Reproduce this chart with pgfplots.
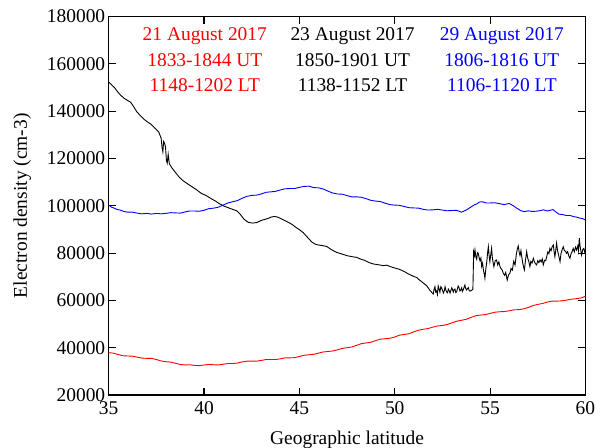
\documentclass[border=0pt]{standalone}
\usepackage{fontspec}
\setmainfont{Liberation Serif}
\usepackage{pgfplots}
\pgfplotsset{compat=1.18}
\newcommand{\chartfont}{\fontsize{19.5}{23}\selectfont}
\begin{document}
\begin{tikzpicture}
\begin{axis}[
    scale only axis,
    width=476.7bp, height=378.4bp,
    xmin=35, xmax=60, ymin=20000, ymax=180000,
    xtick={35,40,...,60},
    ytick={20000,40000,...,180000},
    scaled y ticks=false,
    yticklabel style={/pgf/number format/fixed, /pgf/number format/1000 sep={}},
    /pgf/number format/assume math mode=true,
    tick align=inside,
    major tick length=7bp,
    axis line style={line width=1.1bp},
    every tick/.style={black, line width=1.1bp},
    tick label style={font=\chartfont},
    xticklabel style={yshift=-3bp},
    label style={font=\chartfont},
    xlabel={Geographic latitude},
    ylabel={Electron density (cm-3)},
    xlabel style={yshift=-10bp},
    ylabel style={yshift=9bp},
    every axis plot/.append style={line width=0.9bp, mark=none},
]

% 21 August 2017
\addplot[red] coordinates {
(35.00,37900) (35.25,37700) (35.50,37100) (35.75,36600) (36.00,36500) (36.25,36400)
(36.50,36000) (36.75,35600) (37.00,35500) (37.25,35500) (37.50,35000) (37.75,34400)
(38.00,34100) (38.25,33900) (38.50,33400) (38.75,32900) (39.00,32700) (39.25,32800)
(39.50,32500) (39.75,32400) (40.00,32700) (40.25,32900) (40.50,32800) (40.75,32700)
(41.00,33000) (41.25,33300) (41.50,33300) (41.75,33500) (42.00,34000) (42.25,34300)
(42.50,34300) (42.75,34300) (43.00,34600) (43.25,35000) (43.50,35000) (43.75,35000)
(44.00,35300) (44.25,35700) (44.50,35700) (44.75,35800) (45.00,36300) (45.25,36800)
(45.50,37000) (45.75,37200) (46.00,37700) (46.25,38200) (46.50,38400) (46.75,38600)
(47.00,39100) (47.25,39700) (47.50,40000) (47.75,40300) (48.00,41000) (48.25,41700)
(48.50,42000) (48.75,42300) (49.00,43000) (49.25,43600) (49.50,43800) (49.75,44000)
(50.00,44500) (50.25,45300) (50.50,45600) (50.75,45900) (51.00,46700) (51.25,47400)
(51.50,47800) (51.75,48100) (52.00,48700) (52.25,49200) (52.50,49400) (52.75,49800)
(53.00,50500) (53.25,51200) (53.50,51600) (53.75,52000) (54.00,52800) (54.25,53500)
(54.50,53800) (54.75,54000) (55.00,54500) (55.25,55000) (55.50,55200) (55.75,55300)
(56.00,55600) (56.25,56000) (56.50,56100) (56.75,56400) (57.00,57000) (57.25,57800)
(57.50,58300) (57.75,58700) (58.00,59300) (58.25,59700) (58.50,59700) (58.75,59800)
(59.00,60100) (59.25,60500) (59.50,60700) (59.75,61000) (60.00,61700)
};

% 23 August 2017
\addplot[black] coordinates {
(35.00,152300) (35.15,151200) (35.30,150000) (35.45,148400) (35.60,147000) (35.80,145500)
(36.00,144500) (36.15,143800) (36.30,142000) (36.47,139800) (36.65,138200) (36.85,136600)
(37.08,135200) (37.20,134600) (37.35,133400) (37.50,132200) (37.62,131300) (37.75,128600)
(37.80,124500) (37.84,122800) (37.88,127200) (37.93,126500) (37.98,124800) (38.03,119000)
(38.07,118000) (38.12,121800) (38.18,117800) (38.30,116200) (38.50,114100) (38.70,112100)
(38.90,110600) (39.17,109100) (39.40,107900) (39.60,106800) (39.85,105300) (40.14,104200)
(40.40,102900) (40.60,102000) (40.80,100900) (41.01,100000) (41.20,99400) (41.40,98800)
(41.71,97900) (41.90,96400) (42.10,94300) (42.32,93000) (42.55,92700) (42.76,92900)
(43.00,93800) (43.20,94300) (43.37,94700) (43.55,95300) (43.72,95500) (43.90,95100)
(44.10,94300) (44.30,93500) (44.45,92900) (44.60,92200) (44.80,91000) (45.00,89900)
(45.20,88700) (45.35,87300) (45.50,86000) (45.65,84700) (45.82,83800) (46.00,83400)
(46.20,83200) (46.43,82800) (46.60,81900) (46.80,80900) (46.96,80300) (47.20,79700)
(47.50,78900) (47.75,78500) (48.00,78200) (48.20,77500) (48.40,77000) (48.65,76000)
(48.88,75400) (49.05,75200) (49.20,75000) (49.40,74700) (49.58,74900) (49.80,74200)
(50.00,73700) (50.19,73300) (50.40,72600) (50.55,72000) (50.71,71200) (50.85,70700)
(51.00,70100) (51.15,69700) (51.30,68600) (51.40,68000) (51.55,67000) (51.68,66200)
(51.85,64200) (52.02,62700) (52.06,64500) (52.11,65800) (52.15,63500) (52.20,64000)
(52.24,62500) (52.28,66100) (52.33,64800) (52.37,63500) (52.42,65800) (52.46,65300)
(52.51,64200) (52.55,63100) (52.60,64000) (52.64,65800) (52.68,64500) (52.72,63600)
(52.77,63200) (52.81,64800) (52.86,64100) (52.90,63100) (52.95,64300) (52.99,65300)
(53.03,64700) (53.07,63500) (53.12,64600) (53.16,64800) (53.20,63300) (53.25,63600)
(53.29,65000) (53.33,66100) (53.38,65200) (53.42,64000) (53.46,64300) (53.51,65300)
(53.55,63800) (53.59,64400) (53.64,65600) (53.68,66500) (53.72,65100) (53.77,64400)
(53.81,64900) (53.86,65400) (53.90,64300) (53.95,63900) (54.00,64100) (54.04,64300)
(54.10,64800) (54.14,80600) (54.18,79000) (54.21,81300) (54.26,78200) (54.30,77400)
(54.34,80200) (54.38,79900) (54.43,78000) (54.47,76800) (54.52,77900) (54.56,74300)
(54.61,75800) (54.65,72900) (54.70,71000) (54.73,69400) (54.78,73500) (54.82,75700)
(54.87,80000) (54.91,82700) (54.95,79000) (54.99,76400) (55.04,79500) (55.08,82000)
(55.12,78000) (55.16,76000) (55.20,74300) (55.27,76800) (55.34,77100) (55.40,75000)
(55.46,76300) (55.52,74300) (55.58,73400) (55.64,72800) (55.69,71500) (55.76,70600)
(55.82,71800) (55.90,68600) (55.97,70800) (56.04,71500) (56.10,73500) (56.17,72800)
(56.24,76500) (56.31,75000) (56.38,79500) (56.43,81800) (56.48,83000) (56.53,80200)
(56.57,79000) (56.62,81000) (56.66,78500) (56.71,76000) (56.76,74000) (56.80,72900)
(56.86,77000) (56.92,80600) (56.97,78000) (57.03,76500) (57.09,74300) (57.14,76500)
(57.20,75800) (57.27,77800) (57.32,76500) (57.38,75500) (57.44,75000) (57.50,76800)
(57.56,76000) (57.62,77100) (57.68,76300) (57.74,77500) (57.79,75000) (57.86,77000)
(57.92,76800) (57.97,78500) (58.03,80500) (58.09,79800) (58.14,82000) (58.20,81000)
(58.26,82800) (58.32,83400) (58.36,80500) (58.40,78500) (58.45,81500) (58.49,84200)
(58.54,81000) (58.60,79000) (58.67,76400) (58.72,79800) (58.78,81500) (58.84,82700)
(58.90,81000) (58.96,80800) (59.01,79900) (59.07,80600) (59.13,78800) (59.19,77800)
(59.25,79800) (59.30,80600) (59.36,82000) (59.42,80500) (59.48,82500) (59.54,81300)
(59.60,83000) (59.64,81000) (59.68,86300) (59.72,83000) (59.76,81000) (59.80,79200)
(59.86,81500) (59.92,82000) (59.96,80500) (60.00,81300)
};

% 29 August 2017
\addplot[blue] coordinates {
(35.00,100300) (35.15,99400) (35.30,99000) (35.45,98400) (35.60,98200) (35.80,97600)
(36.00,97300) (36.25,97300) (36.50,96900) (36.75,96600) (37.00,96800) (37.25,96500)
(37.50,96800) (37.75,96600) (38.00,96800) (38.25,97100) (38.50,97000) (38.75,96900)
(39.00,97400) (39.25,97800) (39.50,97800) (39.75,97700) (40.00,98100) (40.25,98800)
(40.50,99000) (40.75,99400) (41.00,100300) (41.25,101200) (41.50,101700) (41.75,102200)
(42.00,103200) (42.25,104000) (42.50,104400) (42.75,104500) (43.00,105000) (43.25,105700)
(43.50,105900) (43.75,106100) (44.00,106700) (44.25,107200) (44.50,107300) (44.75,107300)
(45.00,107800) (45.25,108200) (45.50,108300) (45.75,107700) (46.00,107600) (46.25,107100)
(46.50,106200) (46.75,105400) (47.00,105000) (47.25,104900) (47.50,104300) (47.75,103800)
(48.00,103800) (48.25,103600) (48.50,103000) (48.75,102300) (49.00,102000) (49.25,101800)
(49.50,101100) (49.75,100500) (50.00,100300) (50.25,100200) (50.50,99700) (50.75,99200)
(51.00,99100) (51.25,99000) (51.50,98500) (51.75,98200) (52.00,98300) (52.25,98500)
(52.50,98200) (52.75,97900) (53.00,98000) (53.25,98100) (53.50,97300) (53.75,98200)
(54.00,99500) (54.15,100300) (54.30,100800) (54.45,101600) (54.60,101700) (54.80,101200)
(55.00,101200) (55.25,101300) (55.50,100900) (55.75,100500) (56.00,101000) (56.20,100100)
(56.40,99000) (56.60,98000) (56.80,97500) (57.00,97900) (57.20,97600) (57.40,97700)
(57.60,97900) (57.80,98300) (58.00,97800) (58.15,98100) (58.30,98400) (58.45,97400)
(58.60,96500) (58.80,96300) (59.00,95900) (59.20,95900) (59.40,95400) (59.55,95200)
(59.70,94800) (59.85,94600) (60.00,94000)
};

\node[red, font=\chartfont] at (axis cs:40.04,171800) {21 August 2017};
\node[red, font=\chartfont] at (axis cs:40.04,161400) {1833-1844 UT};
\node[red, font=\chartfont] at (axis cs:40.04,151000) {1148-1202 LT};
\node[black, font=\chartfont] at (axis cs:47.79,171800) {23 August 2017};
\node[black, font=\chartfont] at (axis cs:47.79,161400) {1850-1901 UT};
\node[black, font=\chartfont] at (axis cs:47.79,151000) {1138-1152 LT};
\node[blue, font=\chartfont] at (axis cs:55.62,171800) {29 August 2017};
\node[blue, font=\chartfont] at (axis cs:55.62,161400) {1806-1816 UT};
\node[blue, font=\chartfont] at (axis cs:55.62,151000) {1106-1120 LT};
\end{axis}
\pgfresetboundingbox
\path ([shift={(-108.7bp,-53bp)}]current axis.south west) rectangle ([shift={(18.6bp,16.6bp)}]current axis.north east);
\end{tikzpicture}
\end{document}
